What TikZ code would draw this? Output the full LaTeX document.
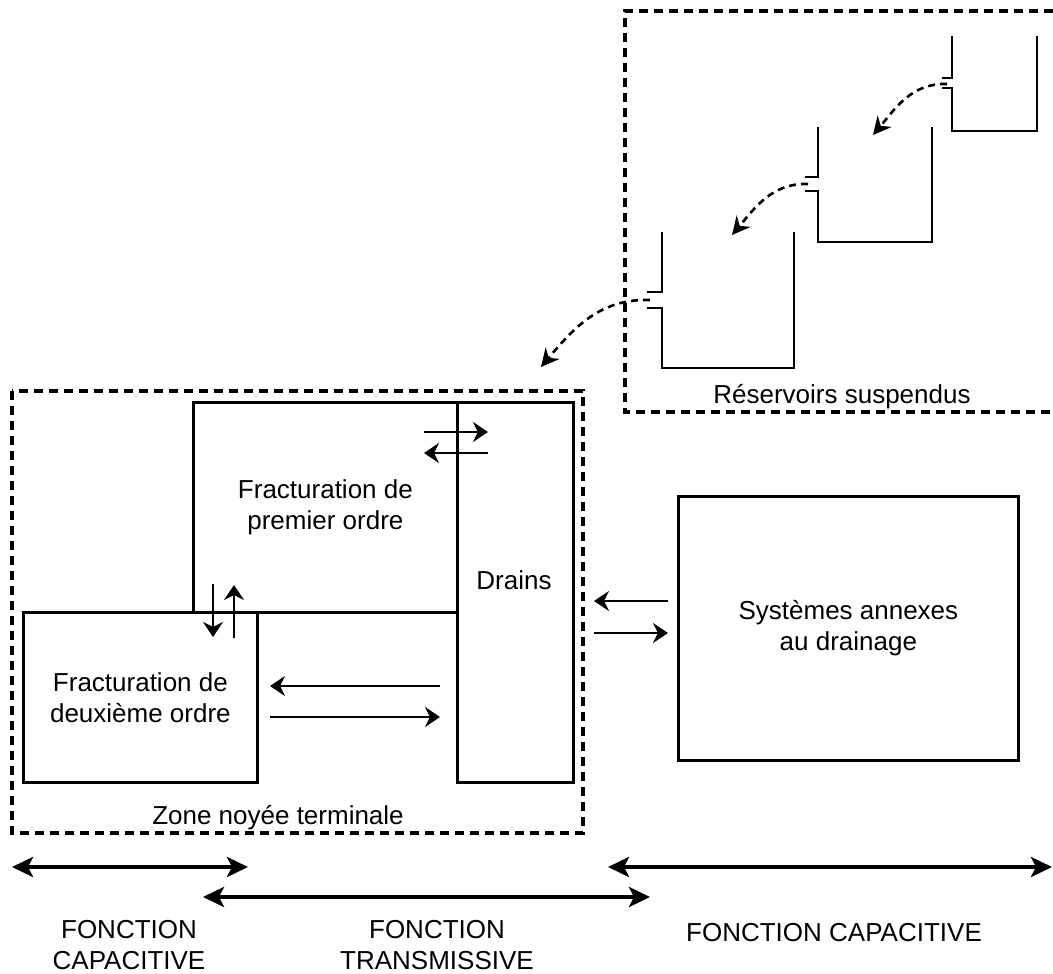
\documentclass[tikz,border=0pt]{standalone}
\usepackage{fontspec}
\setmainfont{Liberation Sans}
\usetikzlibrary{positioning,arrows.meta}

\begin{document}
\begin{tikzpicture}[x=1pt,y=-1pt,line width=2.8pt,
  font=\fontsize{26pt}{31pt}\selectfont,
  >={Stealth[length=15pt,width=20pt,inset=5pt]},
  box/.style={draw,rectangle,anchor=north west,inner sep=0pt,align=center},
  zone/.style={line width=3.2pt,dash pattern=on 9pt off 6pt},
  flow/.style={->,line width=2.6pt,dash pattern=on 7pt off 5pt,>={Stealth[length=18pt,width=18pt,inset=6pt]}},
  xch/.style={->,line width=2.4pt},
  span/.style={<->,line width=4pt,>={Stealth[length=21pt,width=20pt,inset=5pt]}},
  lbl/.style={inner sep=0pt,align=center}]
  \useasboundingbox (0,0) rectangle (1053,974);

  \node[box,minimum width=264pt,minimum height=210pt] (frac1) at (192,401) {Fracturation de\\premier ordre};
  \node[box,minimum width=116pt,minimum height=380pt] (drains) at (456,401) {};
  \node[box,minimum width=234pt,minimum height=170pt] (frac2) at (22,611) {Fracturation de\\deuxième ordre};
  \node[box,minimum width=340pt,minimum height=264pt] (annexes) at (677,495) {Systèmes annexes\\au drainage};
  \node[lbl,anchor=base] (drainslbl) at (514,589) {Drains};

  \draw[zone] (12,391) rectangle (583,833);
  \node[lbl,anchor=base] (zonelbl) at (278,824) {Zone noyée terminale};
  \draw[zone] (1053,11) -- (625,11) -- (625,412) -- (1053,412);
  \node[lbl,anchor=base] (reslbl) at (842,403) {Réservoirs suspendus};

  % reservoirs
  \draw (952,36) -- (952,78) -- (942,78);
  \draw (942,88) -- (952,88) -- (952,131) -- (1037,131) -- (1037,36);
  \draw (818,127) -- (818,177) -- (805,177);
  \draw (805,191) -- (818,191) -- (818,242) -- (932,242) -- (932,127);
  \draw (662,232) -- (662,292) -- (647,292);
  \draw (647,308) -- (662,308) -- (662,368) -- (794,368) -- (794,232);

  \coordinate (out1) at (947,84);
  \coordinate (out2) at (808,184);
  \coordinate (out3) at (650,300);
  \coordinate (in2) at (873,135);
  \coordinate (in3) at (732,235);
  \coordinate (in4) at (541,367);
  \draw[flow] (out1) to[out=178,in=50] (in2);
  \draw[flow] (out2) to[out=178,in=50] (in3);
  \draw[flow] (out3) to[out=178,in=50] (in4);

  % exchanges
  \coordinate (a1) at (424,432);
  \coordinate (a2) at (488,432);
  \coordinate (b1) at (488,453);
  \coordinate (b2) at (424,453);
  \draw[xch] (a1) -- (a2);
  \draw[xch] (b1) -- (b2);
  \coordinate (c1) at (213,584);
  \coordinate (c2) at (213,637);
  \coordinate (d1) at (234,638);
  \coordinate (d2) at (234,585);
  \draw[xch] (c1) -- (c2);
  \draw[xch] (d1) -- (d2);
  \coordinate (e1) at (440,686);
  \coordinate (e2) at (270,686);
  \coordinate (f1) at (270,717);
  \coordinate (f2) at (440,717);
  \draw[xch] (e1) -- (e2);
  \draw[xch] (f1) -- (f2);
  \coordinate (g1) at (668,601);
  \coordinate (g2) at (594,601);
  \coordinate (h1) at (594,633);
  \coordinate (h2) at (668,633);
  \draw[xch] (g1) -- (g2);
  \draw[xch] (h1) -- (h2);

  % functions
  \coordinate (s1a) at (12,867);
  \coordinate (s1b) at (248,867);
  \coordinate (s2a) at (203,897);
  \coordinate (s2b) at (650,897);
  \coordinate (s3a) at (608,867);
  \coordinate (s3b) at (1052,867);
  \draw[span] (s1a) -- (s1b);
  \draw[span] (s2a) -- (s2b);
  \draw[span] (s3a) -- (s3b);
  \node[lbl] (fcap1) at (129,945) {FONCTION\\CAPACITIVE};
  \node[lbl] (ftrans) at (437,945) {FONCTION\\TRANSMISSIVE};
  \node[lbl,anchor=base] (fcap2) at (834,941) {FONCTION CAPACITIVE};
\end{tikzpicture}
\end{document}
